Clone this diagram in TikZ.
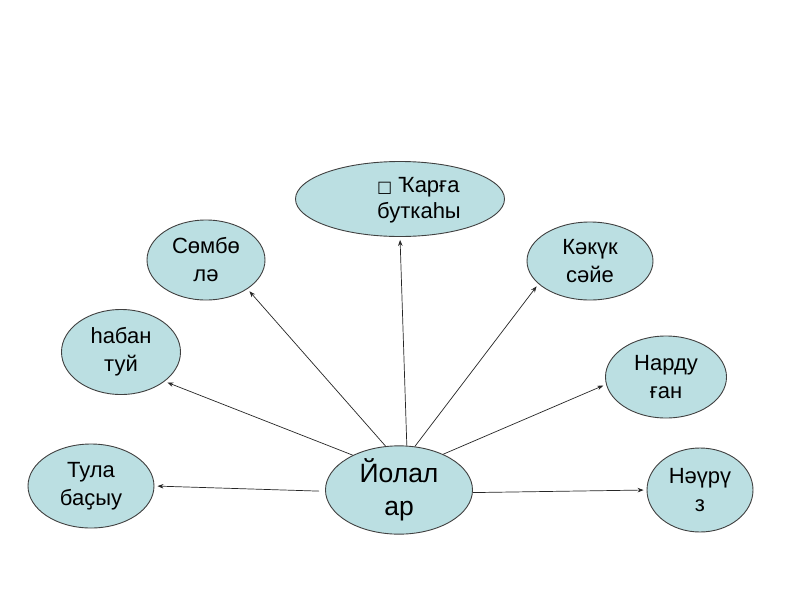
\documentclass[tikz,border=0pt]{standalone}
\usepackage{fontspec}
\setmainfont{Liberation Sans}
\newfontfamily\dvfont{DejaVu Sans}
\usetikzlibrary{shapes.geometric,arrows.meta}
\definecolor{ellfill}{HTML}{BBDFE2}
\definecolor{ellline}{HTML}{404040}
\tikzset{
  ell/.style={ellipse, draw=ellline, line width=0.9pt, fill=ellfill, inner sep=0pt, align=center,
    font=\fontsize{22}{28}\selectfont},
  txt/.style={inner sep=0pt, align=left, font=\fontsize{22}{26}\selectfont},
  arr/.style={draw=black!85, line width=0.7pt, -{Stealth[length=6pt,width=4.5pt]}, shorten >=3pt}
}
\begin{document}
\begin{tikzpicture}[x=1pt,y=-1pt]
\useasboundingbox[fill=white] (0,0) rectangle (800,600);
\node[ell, minimum width=209pt, minimum height=75pt] (k) at (400,199) {};
\node[txt, anchor=west] (kt) at (377,200) {{\dvfont\fontsize{16}{26}\selectfont □} Ҡарға\\буткаһы};
\node[ell, minimum width=118pt, minimum height=80pt] (s) at (206,260) {Сөмбө\\лә};
\node[ell, minimum width=126pt, minimum height=78pt] (kk) at (590,261) {Кәкүк\\сәйе};
\node[ell, minimum width=119pt, minimum height=85pt] (h) at (121,352) {һабан\\туй};
\node[ell, minimum width=121pt, minimum height=82pt] (n) at (666,377) {Нарду\\ған};
\node[ell, minimum width=126pt, minimum height=84pt] (t) at (91,486) {Тула\\баҫыу};
\node[ell, minimum width=106pt, minimum height=84pt] (nz) at (700,490) {Нәүрү\\з};
\node[ell, minimum width=147pt, minimum height=87pt, font=\fontsize{26.5}{33}\selectfont] (c) at (399,490) {Йолал\\ар};
\draw[arr] (c.80) -- (k.south);
\draw[arr] (c.107) -- (s.325);
\draw[arr] (c.70) -- (kk.204);
\draw[arr] (c.143) -- (h.326);
\draw[arr] (c.39) -- (n.187);
\draw[arr, shorten <=6pt] (c.181) -- (t.east);
\draw[arr] (c.358) -- (nz.west);
\end{tikzpicture}
\end{document}
